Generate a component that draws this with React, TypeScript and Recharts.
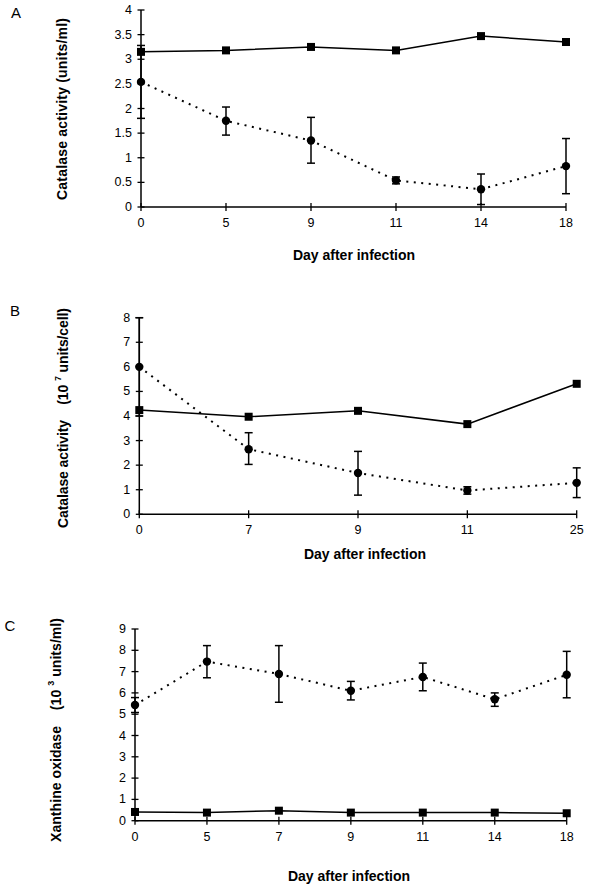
import React from 'react';
import { LineChart, Line, XAxis, YAxis, ErrorBar } from 'recharts';

// ---------- Panel A: catalase activity (units/ml) ----------
const daysA = ['0', '5', '9', '11', '14', '18'];
const controlA = [3.15, 3.18, 3.25, 3.18, 3.47, 3.35];
const infectedA = [2.54, 1.75, 1.35, 0.54, 0.36, 0.83];
const infectedLowA = [1.8, 1.46, 0.89, 0.47, 0.05, 0.27];
const infectedHighA = [3.28, 2.03, 1.82, 0.61, 0.67, 1.39];
const ticksA = [0, 0.5, 1, 1.5, 2, 2.5, 3, 3.5, 4];

// ---------- Panel B: catalase activity (10^7 units/cell) ----------
const daysB = ['0', '7', '9', '11', '25'];
const controlB = [4.24, 3.97, 4.21, 3.67, 5.31];
const infectedB = [6.0, 2.65, 1.68, 0.97, 1.28];
const infectedLowB = [4.0, 2.03, 0.78, 0.82, 0.68];
const infectedHighB = [8.0, 3.32, 2.56, 1.12, 1.89];
const ticksB = [0, 1, 2, 3, 4, 5, 6, 7, 8];

// ---------- Panel C: xanthine oxidase (10^3 units/ml) ----------
const daysC = ['0', '5', '7', '9', '11', '14', '18'];
const controlC = [0.41, 0.38, 0.47, 0.38, 0.38, 0.38, 0.35];
const infectedC = [5.43, 7.47, 6.89, 6.1, 6.75, 5.7, 6.85];
const infectedLowC = [5.08, 6.71, 5.56, 5.67, 6.1, 5.37, 5.77];
const infectedHighC = [5.78, 8.22, 8.22, 6.54, 7.4, 6.0, 7.95];
const ticksC = [0, 1, 2, 3, 4, 5, 6, 7, 8, 9];

const xTitle = 'Day after infection';

const FONT = '"Liberation Sans", Arial, Helvetica, sans-serif';

function buildRows(days: string[], control: number[], infected: number[], low: number[], high: number[]) {
  return days.map((d, i) => ({
    day: d,
    control: control[i],
    infected: infected[i],
    err: [infected[i] - low[i], high[i] - infected[i]],
  }));
}

const rowsA = buildRows(daysA, controlA, infectedA, infectedLowA, infectedHighA);
const rowsB = buildRows(daysB, controlB, infectedB, infectedLowB, infectedHighB);
const rowsC = buildRows(daysC, controlC, infectedC, infectedLowC, infectedHighC);

const SquareDot = (props: any) => {
  const { cx, cy, index } = props;
  if (cx == null || cy == null) return <g key={`sq-${index}`} />;
  return <rect key={`sq-${index}`} x={cx - 4} y={cy - 4} width={8} height={8} fill="#000" />;
};

const YTick = (props: any) => {
  const { x, y, payload } = props;
  return (
    <g>
      <line x1={x - 3.5} x2={x + 3.5} y1={y} y2={y} stroke="#000" strokeWidth={1.3} />
      <text x={x - 9} y={y} textAnchor="end" dominantBaseline="central" fontSize={12.5} fontFamily={FONT} fill="#000">
        {payload.value}
      </text>
    </g>
  );
};

const XTick = (props: any) => {
  const { x, y, payload } = props;
  return (
    <g>
      <line x1={x} x2={x} y1={y - 4} y2={y + 4} stroke="#000" strokeWidth={1.3} />
      <text x={x} y={y + 16} textAnchor="middle" dominantBaseline="central" fontSize={12.5} fontFamily={FONT} fill="#000">
        {payload.value}
      </text>
    </g>
  );
};

type PanelProps = {
  top: number;
  height: number;
  margin: { top: number; right: number; bottom: number; left: number };
  rows: any[];
  ticks: number[];
  domain: [number, number];
};

function Panel({ top, height, margin, rows, ticks, domain }: PanelProps) {
  return (
    <div style={{ position: 'absolute', left: 0, top, width: 590, height }}>
      <LineChart width={590} height={height} data={rows} margin={margin}>
        <XAxis
          dataKey="day"
          type="category"
          height={20}
          padding={{ left: 0, right: 0 }}
          axisLine={{ stroke: '#000', strokeWidth: 1.5 }}
          tickLine={false}
          tickSize={0}
          tickMargin={0}
          interval={0}
          tick={<XTick />}
        />
        <YAxis
          type="number"
          width={40}
          domain={domain}
          ticks={ticks}
          allowDataOverflow
          axisLine={{ stroke: '#000', strokeWidth: 1.5 }}
          tickLine={false}
          tickSize={0}
          tickMargin={0}
          interval={0}
          tick={<YTick />}
        />
        <Line
          dataKey="infected"
          stroke="#000"
          strokeWidth={2}
          strokeDasharray="2 5.5"
          dot={{ r: 4.2, fill: '#000', stroke: '#000', strokeWidth: 0, strokeDasharray: '' }}
          activeDot={false}
          isAnimationActive={false}
        >
          <ErrorBar dataKey="err" direction="y" width={4} stroke="#000" strokeWidth={1.5} />
        </Line>
        <Line
          dataKey="control"
          stroke="#000"
          strokeWidth={1.5}
          dot={SquareDot}
          activeDot={false}
          isAnimationActive={false}
        />
      </LineChart>
    </div>
  );
}

const titleProps = {
  fontFamily: FONT,
  fontSize: 14,
  fontWeight: 'bold' as const,
  fill: '#000',
  textAnchor: 'middle' as const,
  dominantBaseline: 'central' as const,
};

const letterProps = {
  fontFamily: FONT,
  fontSize: 15,
  fill: '#000',
  textAnchor: 'middle' as const,
  dominantBaseline: 'central' as const,
};

function RotTitle({ x, y, len, children }: { x: number; y: number; len: number; children: React.ReactNode }) {
  return (
    <text
      {...titleProps}
      x={x}
      y={y}
      transform={`rotate(-90 ${x} ${y})`}
      textLength={len}
      lengthAdjust="spacing"
      xmlSpace="preserve"
    >
      {children}
    </text>
  );
}

export default function App() {
  return (
    <div style={{ position: 'absolute', left: 0, top: 0, width: 590, height: 888, background: '#fff', overflow: 'hidden' }}>
      <Panel top={0} height={240} margin={{ top: 10, right: 24, bottom: 13, left: 101 }} rows={rowsA} ticks={ticksA} domain={[0, 4]} />
      <Panel top={300} height={240} margin={{ top: 17.7, right: 13.3, bottom: 5.7, left: 99.3 }} rows={rowsB} ticks={ticksB} domain={[0, 8]} />
      <Panel top={610} height={240} margin={{ top: 19, right: 23.3, bottom: 9.3, left: 95 }} rows={rowsC} ticks={ticksC} domain={[0, 9]} />

      <svg width={590} height={888} style={{ position: 'absolute', left: 0, top: 0, pointerEvents: 'none' }}>
        <text {...letterProps} x={16} y={12}>A</text>
        <text {...letterProps} x={15} y={310}>B</text>
        <text {...letterProps} x={10} y={625}>C</text>

        <RotTitle x={62} y={109} len={182}>Catalase activity (units/ml)</RotTitle>
        <RotTitle x={63} y={418} len={220}>
          <tspan>{'Catalase activity    (10 '}</tspan>
          <tspan fontSize={9} dy={-5}>7</tspan>
          <tspan dy={5}>{' units/cell)'}</tspan>
        </RotTitle>
        <RotTitle x={56} y={730} len={224}>
          <tspan>{'Xanthine oxidase    (10 '}</tspan>
          <tspan fontSize={9} dy={-5}>3</tspan>
          <tspan dy={5}>{' units/ml)'}</tspan>
        </RotTitle>

        <text {...titleProps} x={354} y={255}>{xTitle}</text>
        <text {...titleProps} x={365} y={554}>{xTitle}</text>
        <text {...titleProps} x={349} y={876}>{xTitle}</text>
      </svg>
    </div>
  );
}
